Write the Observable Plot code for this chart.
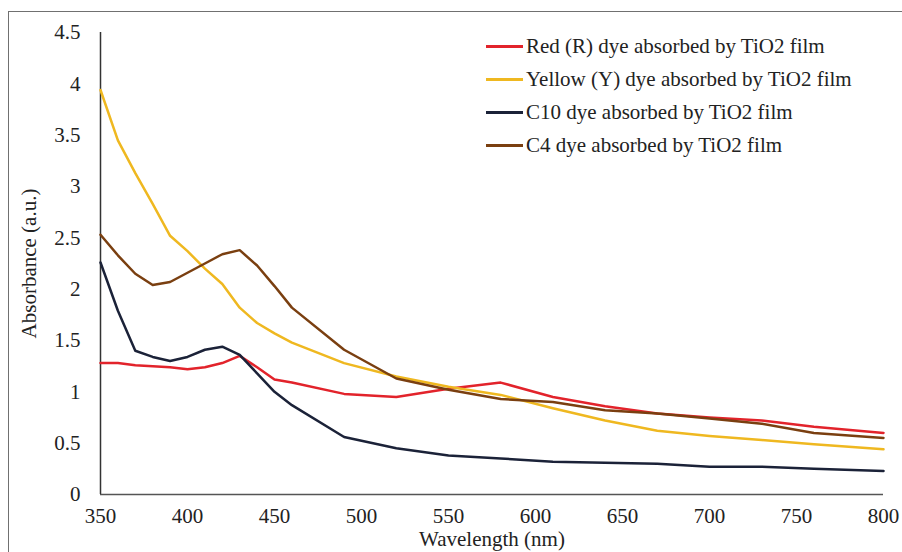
<!DOCTYPE html>
<html>
<head>
<meta charset="utf-8">
<script src="https://cdn.jsdelivr.net/npm/d3@7"></script>
<script src="https://cdn.jsdelivr.net/npm/@observablehq/plot@0.6"></script>
<style>
  html, body { margin: 0; padding: 0; background: #fff; overflow: hidden; }
  #wrap { position: relative; width: 902px; height: 552px; overflow: hidden; }
  #border { position: absolute; left: 8px; top: 11px; width: 1000px; height: 1000px; border: 1.5px solid #707070; box-sizing: border-box; pointer-events: none; }
  #legend { position: absolute; left: 486px; top: 30px; font-family: "Liberation Serif", "Times New Roman", serif; font-size: 21px; color: #222; }
  .row { display: flex; align-items: center; height: 33px; white-space: nowrap; }
  .sw { width: 37px; height: 2.5px; margin-right: 3px; }
  #chart { position: absolute; left: 0; top: 0; }
</style>
</head>
<body>
<div id="wrap">
  <div id="chart"></div>
  <div id="border"></div>
  <div id="legend"></div>
</div>
<script>
// Data
const wavelengths = [350,360,370,380,390,400,410,420,430,440,450,460,490,520,550,580,610,640,670,700,730,760,800];
const redDye    = [1.28,1.28,1.26,1.25,1.24,1.22,1.24,1.28,1.35,1.24,1.12,1.09,0.98,0.95,1.03,1.09,0.95,0.86,0.79,0.75,0.72,0.66,0.60];
const yellowDye = [3.94,3.45,3.13,2.83,2.52,2.37,2.20,2.05,1.82,1.67,1.57,1.48,1.28,1.15,1.05,0.97,0.84,0.72,0.62,0.57,0.53,0.49,0.44];
const c10Dye    = [2.26,1.79,1.40,1.34,1.30,1.34,1.41,1.44,1.36,1.18,1.00,0.87,0.56,0.45,0.38,0.35,0.32,0.31,0.30,0.27,0.27,0.25,0.23];
const c4Dye     = [2.53,2.33,2.15,2.04,2.07,2.16,2.25,2.34,2.38,2.23,2.03,1.82,1.41,1.13,1.02,0.93,0.90,0.82,0.79,0.74,0.69,0.60,0.55];

const seriesNames = [
  "Red (R) dye absorbed by TiO2 film",
  "Yellow (Y) dye absorbed by TiO2 film",
  "C10 dye absorbed by TiO2 film",
  "C4 dye absorbed by TiO2 film"
];
const seriesValues = [redDye, yellowDye, c10Dye, c4Dye];
const seriesColors = ["#e2232b", "#efb820", "#1b2238", "#7a3f10"];

const xTicks = [350,400,450,500,550,600,650,700,750,800];
const yTicks = [0,0.5,1,1.5,2,2.5,3,3.5,4,4.5];

const data = [];
seriesNames.forEach((name, i) => {
  wavelengths.forEach((w, j) => data.push({series: name, wl: w, abs: seriesValues[i][j]}));
});

const chart = Plot.plot({
  width: 902,
  height: 552,
  marginLeft: 100,
  marginRight: 19,
  marginTop: 32,
  marginBottom: 58,
  style: { fontFamily: "'Liberation Serif', 'Times New Roman', serif", fontSize: "21px", color: "#222", background: "transparent" },
  x: { domain: [350, 800] },
  y: { domain: [0, 4.5] },
  color: { domain: seriesNames, range: seriesColors },
  marks: [
    Plot.axisX({ ticks: xTicks, tickSize: 0, tickPadding: 14, tickFormat: d => String(d),
      label: "Wavelength (nm)", labelAnchor: "center", labelArrow: "none", labelOffset: 51 }),
    Plot.axisY({ ticks: yTicks, tickSize: 0, tickPadding: 20, tickFormat: d => String(d),
      label: "Absorbance (a.u.)", labelAnchor: "center", labelArrow: "none", labelOffset: 79 }),
    Plot.ruleY([0], { stroke: "#555", strokeWidth: 1.5 }),
    Plot.ruleX([350], { stroke: "#333", strokeWidth: 1.5 }),
    Plot.line(data, { x: "wl", y: "abs", stroke: "series", z: "series", strokeWidth: 2.5 })
  ]
});
document.getElementById("chart").appendChild(chart);

const legend = document.getElementById("legend");
seriesNames.forEach((name, i) => {
  const row = document.createElement("div");
  row.className = "row";
  const sw = document.createElement("span");
  sw.className = "sw";
  sw.style.background = seriesColors[i];
  const tx = document.createElement("span");
  tx.textContent = name;
  row.appendChild(sw);
  row.appendChild(tx);
  legend.appendChild(row);
});
</script>
</body>
</html>
